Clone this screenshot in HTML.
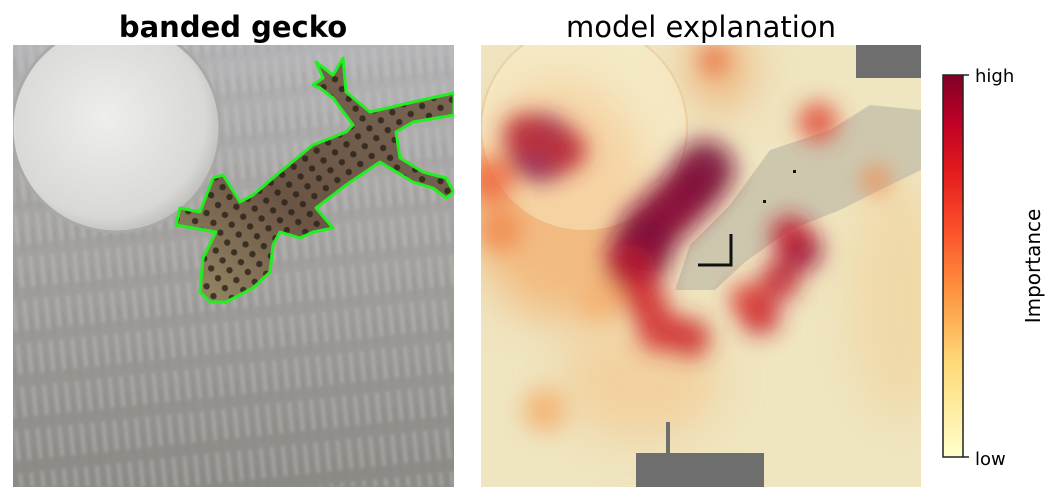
<!DOCTYPE html>
<html><head><meta charset="utf-8"><style>
body{margin:0;background:#fff;width:1053px;height:500px;overflow:hidden;font-family:"DejaVu Sans","Liberation Sans",sans-serif}
</style></head><body>
<svg width="1053" height="500">
<defs>
<filter id="bl" x="-50%" y="-50%" width="200%" height="200%"><feGaussianBlur stdDeviation="11"/></filter>
<filter id="bl3" x="-50%" y="-50%" width="200%" height="200%"><feGaussianBlur stdDeviation="22"/></filter>
<filter id="bl2"><feGaussianBlur stdDeviation="1.5"/></filter>
<linearGradient id="cb" x1="0" y1="1" x2="0" y2="0">
<stop offset="0" stop-color="#ffffcc"/><stop offset="0.25" stop-color="#fed976"/><stop offset="0.45" stop-color="#fd8d3c"/><stop offset="0.6" stop-color="#fc4e2a"/><stop offset="0.75" stop-color="#e31a1c"/><stop offset="0.88" stop-color="#bd0026"/><stop offset="1" stop-color="#800026"/></linearGradient>
<radialGradient id="coin" cx="0.45" cy="0.45" r="0.6"><stop offset="0" stop-color="#eeeeec"/><stop offset="0.8" stop-color="#d8d8d6"/><stop offset="1" stop-color="#b5b5b2"/></radialGradient>
<linearGradient id="bgv" x1="0" y1="0" x2="0" y2="1"><stop offset="0" stop-color="#b4b3b6"/><stop offset="0.5" stop-color="#a2a09d"/><stop offset="1" stop-color="#8c8a86"/></linearGradient>
<pattern id="streak" width="11" height="43" patternUnits="userSpaceOnUse" patternTransform="rotate(-6)">
<rect x="2" width="3" height="30" fill="#d0d0ce" opacity="0.4"/><rect x="7" y="16" width="2" height="22" fill="#6e6c68" opacity="0.2"/></pattern>
<linearGradient id="gk" x1="0" y1="1" x2="1" y2="0"><stop offset="0" stop-color="#9a8e68"/><stop offset="0.4" stop-color="#6a5444"/><stop offset="1" stop-color="#7a6854"/></linearGradient>
<pattern id="spots" width="14" height="12" patternUnits="userSpaceOnUse" patternTransform="rotate(-35)"><circle cx="5" cy="5" r="3.2" fill="#2a2018" opacity="0.8"/></pattern>
<clipPath id="cl"><rect x="13" y="45" width="441" height="442"/></clipPath>
<clipPath id="cr"><rect x="481" y="45" width="440" height="442"/></clipPath>
</defs>
<text x="233" y="37" text-anchor="middle" font-size="29" font-weight="bold">banded gecko</text>
<text x="701" y="37" text-anchor="middle" font-size="29">model explanation</text>
<g clip-path="url(#cl)">
<rect x="13" y="45" width="441" height="442" fill="url(#bgv)"/>
<rect x="13" y="45" width="441" height="442" fill="url(#streak)" filter="url(#bl2)"/>
<circle cx="116" cy="128" r="104" fill="url(#coin)" stroke="#a9a9a6" stroke-width="3"/>
<path d="M210,302 L200,292 L203,258 L216,232 L176,225 L180,208 L200,212 L213,178 L223,175 L240,202 L253,195 L280,172 L313,145 L346,132 L353,125 L333,98 L320,88 L313,85 L323,78 L316,62 L333,75 L343,58 L346,92 L370,112 L413,102 L454,93 L454,115 L413,122 L396,132 L400,158 L423,172 L446,178 L454,192 L446,198 L433,188 L413,182 L380,162 L346,185 L316,208 L333,228 L313,232 L300,238 L280,232 L273,245 L270,272 L253,288 L226,302 Z" fill="url(#gk)"/>
<path d="M210,302 L200,292 L203,258 L216,232 L176,225 L180,208 L200,212 L213,178 L223,175 L240,202 L253,195 L280,172 L313,145 L346,132 L353,125 L333,98 L320,88 L313,85 L323,78 L316,62 L333,75 L343,58 L346,92 L370,112 L413,102 L454,93 L454,115 L413,122 L396,132 L400,158 L423,172 L446,178 L454,192 L446,198 L433,188 L413,182 L380,162 L346,185 L316,208 L333,228 L313,232 L300,238 L280,232 L273,245 L270,272 L253,288 L226,302 Z" fill="url(#spots)" stroke="#22ee22" stroke-width="3" stroke-linejoin="round"/>
</g>
<g clip-path="url(#cr)">
<rect x="481" y="45" width="440" height="442" fill="#efe5c0"/>
<g filter="url(#bl3)">
<ellipse cx="560" cy="200" rx="90" ry="120" fill="#f2b070" opacity="0.8"/>
<ellipse cx="640" cy="380" rx="80" ry="60" fill="#f4c488" opacity="0.6"/>
<ellipse cx="900" cy="300" rx="50" ry="120" fill="#f2d098" opacity="0.6"/>
<ellipse cx="720" cy="70" rx="30" ry="40" fill="#f0a060" opacity="0.7"/>
</g>
<circle cx="584" cy="128" r="103" fill="#fbefcc" opacity="0.45" stroke="#e8bc88" stroke-width="2"/>
<path d="M675,290 L690,245 L730,205 L770,150 L830,130 L870,105 L921,110 L921,170 L880,190 L840,210 L790,230 L745,262 L715,290 Z" fill="#c9c3ac" opacity="0.9"/>
<g id="blobs" filter="url(#bl)"></g>
<rect x="856" y="45" width="65" height="33" fill="#6e6e6e"/>
<rect x="636" y="453" width="128" height="34" fill="#6e6e6e"/>
<rect x="666" y="422" width="4" height="31" fill="#6e6e6e"/>
<path d="M698,265 L731,265 L731,234" fill="none" stroke="#111" stroke-width="3"/>
<rect x="763" y="200" width="3" height="3" fill="#111"/><rect x="793" y="170" width="3" height="3" fill="#111"/>
</g>
<rect x="943" y="75" width="20" height="382" fill="url(#cb)" stroke="#222" stroke-width="1.5"/>
<line x1="963" y1="75" x2="969" y2="75" stroke="#222" stroke-width="1.5"/>
<line x1="963" y1="457" x2="969" y2="457" stroke="#222" stroke-width="1.5"/>
<text x="975" y="82" font-size="18">high</text>
<text x="975" y="465" font-size="18">low</text>
<text transform="translate(1040,266) rotate(-90)" text-anchor="middle" font-size="20">Importance</text>
</svg>
<script>
const blobX=[541,525,565,705,690,670,650,640,630,645,660,690,760,748,780,800,790,818,714,876,490,500,545,600];
const blobY=[148,135,150,170,190,210,230,252,270,300,330,338,315,300,280,250,235,122,60,180,180,230,410,300];
const blobR=[34,22,22,30,30,30,30,32,26,22,22,20,20,18,20,22,20,20,14,14,24,22,22,22];
const blobC=['#8a1a50','#c0303a','#c0303a','#7a0f3a','#800f3a','#8a0f3a','#8a0f3a','#7a0f3a','#b81a30','#d02a30','#d02a30','#cc2a30','#c82030','#d83a34','#c01c30','#9a1038','#c02030','#e04a3a','#e86a40','#f08a50','#ee6a40','#f08a50','#f4b070','#f4b070'];
const g=document.getElementById('blobs');
for(let i=0;i<blobX.length;i++){
 const c=document.createElementNS('http://www.w3.org/2000/svg','circle');
 c.setAttribute('cx',blobX[i]);c.setAttribute('cy',blobY[i]);c.setAttribute('r',blobR[i]);
 c.setAttribute('fill',blobC[i]);c.setAttribute('opacity','0.85');
 
 
 g.appendChild(c);
}
</script>
</body></html>
